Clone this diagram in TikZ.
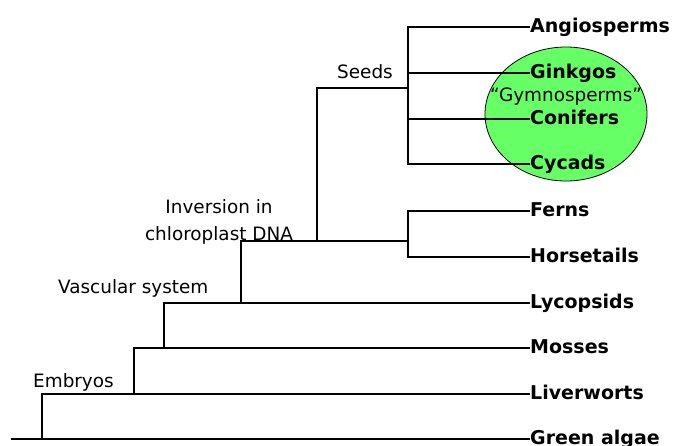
\documentclass[tikz,border=0pt]{standalone}
\usepackage{fontspec}
\setmainfont{DejaVu Sans}
\definecolor{gymgreen}{RGB}{102,255,102}
\begin{document}
\begin{tikzpicture}[x=1pt,y=-1pt,
  branch/.style={draw=black, line width=1.1pt},
  leaf/.style={anchor=west, inner sep=0pt, font=\fontsize{19}{20}\selectfont\bfseries, text height=11pt, text depth=0pt},
  trait/.style={inner sep=0pt, font=\fontsize{18.4}{27}\selectfont}]
\useasboundingbox (0,0) rectangle (674,445);
% green ellipse
\filldraw[fill=gymgreen, draw=black, line width=0.8pt] (566,114) ellipse [x radius=81pt, y radius=67pt];
\node[trait, anchor=base] (gymtext) at (566,101) {“Gymnosperms”};
% leaves
\node[leaf] (ang) at (530,27) {Angiosperms};
\node[leaf] (gin) at (530,73) {Ginkgos};
\node[leaf] (con) at (530,119) {Conifers};
\node[leaf] (cyc) at (530,164) {Cycads};
\node[leaf] (fer) at (530,211) {Ferns};
\node[leaf] (hor) at (530,257) {Horsetails};
\node[leaf] (lyc) at (530,303) {Lycopsids};
\node[leaf] (mos) at (530,348) {Mosses};
\node[leaf] (liv) at (530,394) {Liverworts};
\node[leaf] (alg) at (530,439) {Green algae};
% internal joints
\coordinate (root) at (11,439);
\coordinate (c1) at (42,439);
\coordinate (c2) at (134,394);
\coordinate (c3) at (164,348);
\coordinate (c4) at (241,303);
\coordinate (c5) at (408,241);
\coordinate (c6) at (317,241);
\coordinate (c7) at (408,88);
% branches
\draw[branch] (root) -- (alg.west);
\draw[branch] (c1) |- (liv.west);
\draw[branch] (c2) |- (mos.west);
\draw[branch] (c3) |- (lyc.west);
\draw[branch] (c4) |- (c5);
\draw[branch] (fer.west) -| (c5 |- hor.west) -- (hor.west);
\draw[branch] (c6) |- (c7);
\draw[branch] (ang.west) -| (c7 |- cyc.west) -- (cyc.west);
\draw[branch] (c7 |- gin.west) -- (gin.west);
\draw[branch] (c7 |- con.west) -- (con.west);
% trait labels
\node[trait, anchor=base west] (seeds) at (337,78) {Seeds};
\node[trait, anchor=north, align=center] (inv) at (219,199) {Inversion in\\chloroplast DNA};
\node[trait, anchor=base west] (vasc) at (58,293) {Vascular system};
\node[trait, anchor=base west] (emb) at (33,387) {Embryos};
\end{tikzpicture}
\end{document}
